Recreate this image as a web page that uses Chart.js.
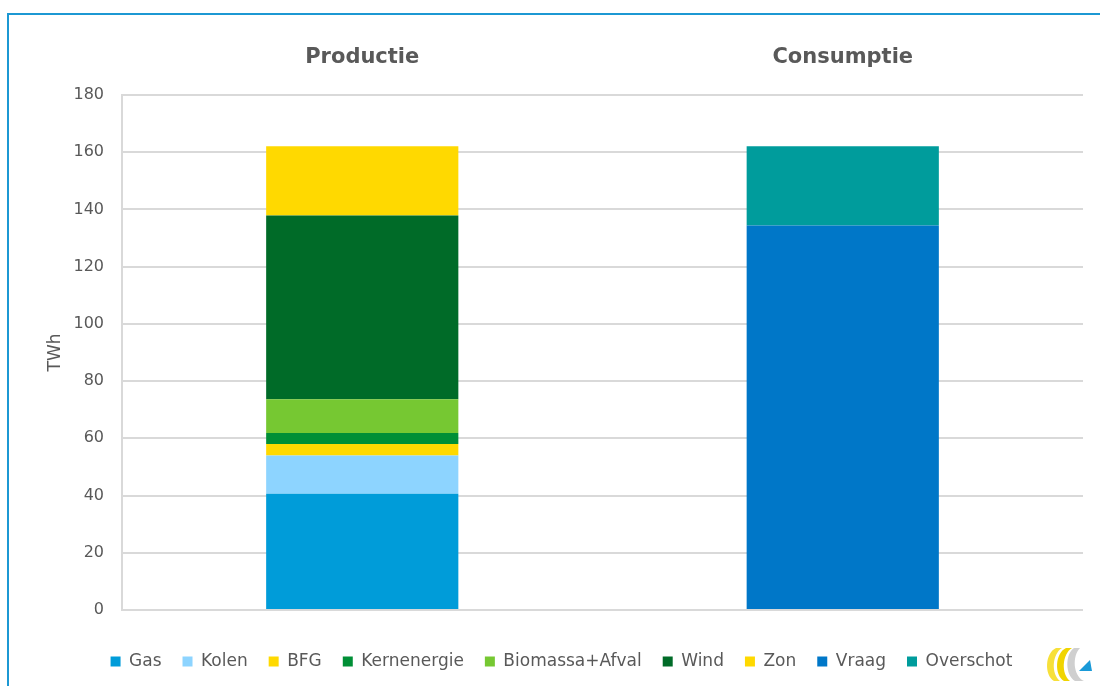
<!DOCTYPE html>
<html>
<head>
<meta charset="utf-8">
<script src="https://cdn.jsdelivr.net/npm/chart.js@4/dist/chart.umd.min.js"></script>
<style>
  html, body { margin: 0; padding: 0; background: #fff; }
  #wrap { position: relative; width: 1100px; height: 686px; overflow: hidden; }
  #frame {
    position: absolute; left: 7px; top: 13px; right: -5px; bottom: -5px;
    border-left: 2px solid #1c98d3; border-top: 2px solid #1c98d3;
    pointer-events: none;
  }
  #logo { position: absolute; left: 1042px; top: 645px; }
</style>
</head>
<body>
<div id="wrap">
  <canvas id="myChart" width="1100" height="686"></canvas>
  <div id="frame"></div>
  <svg id="logo" width="52" height="38" viewBox="0 0 52 38">
    <path d="M14 3 C3 8 2 30 12 36 L18 36 C9 29 10 9 20 3 Z" fill="#f7e03a"/>
    <path d="M24 3 C13 8 12 30 22 36 L28 36 C19 29 20 9 30 3 Z" fill="#f0d400"/>
    <path d="M32 3 C23 9 23 30 33 36 L42 36 C31 31 30 11 38 3 Z" fill="#cfcfcf"/>
    <path d="M37 26 L48 15 L50 26 Z" fill="#1a9ad8"/>
  </svg>
</div>
<script>
// Categories and stacked series (TWh)
const categories = ["Productie", "Consumptie"];
const seriesNames = ["Gas", "Kolen", "BFG", "Kernenergie", "Biomassa+Afval", "Wind", "Zon", "Vraag", "Overschot"];
const gas = [40.6, null];
const kolen = [13.4, null];
const bfg = [4.0, null];
const kernenergie = [3.9, null];
const biomassa = [11.8, null];
const wind = [64.2, null];
const zon = [24.2, null];
const vraag = [null, 134.4];
const overschot = [null, 27.7];
const yTicks = [0, 20, 40, 60, 80, 100, 120, 140, 160, 180];

const seriesColors = ["#009cd9", "#8dd4ff", "#ffd900", "#008f36", "#76c832", "#006b28", "#ffd900", "#0077c8", "#009c9c"];
const seriesData = [gas, kolen, bfg, kernenergie, biomassa, wind, zon, vraag, overschot];

const textGray = "#595959";
const fontFamily = "'DejaVu Sans', sans-serif";

const datasets = seriesNames.map((name, i) => ({
    label: name,
    data: seriesData[i],
    backgroundColor: seriesColors[i],
    borderWidth: 0,
    barPercentage: 1,
    categoryPercentage: 0.4
}));

// nudge the legend row lower and a bit to the right of the default spot
const legendShift = {
    id: 'legendShift',
    afterLayout(chart) {
        const lg = chart.legend;
        lg.top += 22; lg.bottom += 22;
        lg.left += 20; lg.right += 20;
    }
};

const ctx = document.getElementById('myChart').getContext('2d');
const myChart = new Chart(ctx, {
    type: 'bar',
    data: { labels: categories, datasets: datasets },
    plugins: [legendShift],
    options: {
        responsive: false,
        animation: false,
        layout: { padding: { left: 0, right: 17, top: 0, bottom: 28 } },
        plugins: {
            tooltip: { enabled: false },
            legend: {
                position: 'bottom',
                labels: {
                    color: textGray,
                    font: { family: fontFamily, size: 17 },
                    boxWidth: 10,
                    boxHeight: 10,
                    padding: 21
                }
            }
        },
        scales: {
            x: {
                position: 'top',
                stacked: true,
                grid: { display: false, drawTicks: false },
                border: { display: false },
                ticks: {
                    color: textGray,
                    padding: 25,
                    font: { family: fontFamily, size: 21, weight: 'bold' }
                },
                afterFit: scale => { scale.height = 95; }
            },
            y: {
                stacked: true,
                min: 0,
                max: 180,
                afterBuildTicks: scale => { scale.ticks = yTicks.map(v => ({ value: v })); },
                grid: { color: "#d9d9d9", lineWidth: 2, drawTicks: false },
                border: { color: "#d9d9d9", width: 2 },
                ticks: {
                    color: textGray,
                    padding: 18,
                    font: { family: fontFamily, size: 16 }
                },
                title: {
                    display: true,
                    text: "TWh",
                    color: textGray,
                    font: { family: fontFamily, size: 17 },
                    padding: { top: 45, bottom: 0 }
                },
                afterFit: scale => { scale.width = 122; }
            }
        }
    }
});
</script>
</body>
</html>
